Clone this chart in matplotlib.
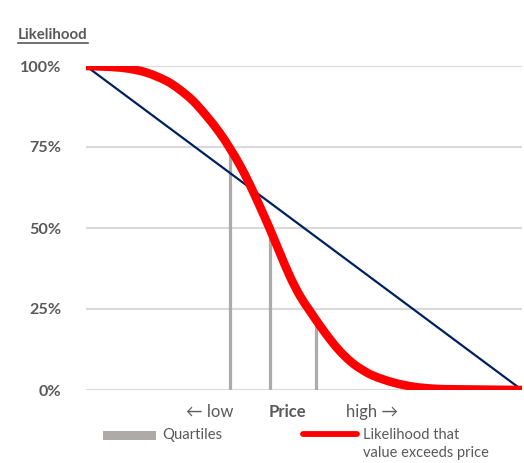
import matplotlib
matplotlib.use('Agg')
import matplotlib.pyplot as plt
from matplotlib.lines import Line2D
from matplotlib.patches import Rectangle, PathPatch
from matplotlib.path import Path

plt.rcParams['font.family'] = ['Lato', 'DejaVu Sans']

# price (0-100 across the axis) and likelihood (%)
price = [0, 4.6, 9.2, 13.8, 18.3, 21.4, 24.5, 27.5, 30.6, 33.0, 35.3, 37.6,
         39.9, 42.2, 44.5, 46.8, 49.1, 51.4, 53.7, 56.0, 58.3, 60.6, 62.8,
         65.9, 70.5, 75.1, 79.7, 85.0, 100]
likelihood = [100, 99.8, 99.3, 98.0, 95.5, 92.8, 89.3, 84.8, 79.5, 74.6, 69.4,
              63.3, 56.6, 49.6, 42.2, 35.0, 29.0, 24.3, 19.8, 15.6, 11.9, 8.9,
              6.7, 4.4, 2.3, 1.0, 0.4, 0.2, 0]

quartile_x = [33.0, 42.2, 52.8]
quartile_y = [75, 50, 22]

uniform_x = [0, 100]
uniform_y = [100, 0]

yticks = [0, 25, 50, 75, 100]
ylabels = ['0%', '25%', '50%', '75%', '100%']

grey_txt = '#595959'


def smooth_path(xs, ys):
    # excel style smoothed line: cubic bezier through every point
    pts = list(zip(xs, ys))
    n = len(pts)
    verts = [pts[0]]
    codes = [Path.MOVETO]
    for i in range(n - 1):
        p0 = pts[i - 1] if i > 0 else pts[i]
        p1 = pts[i]
        p2 = pts[i + 1]
        p3 = pts[i + 2] if i + 2 < n else pts[i + 1]
        c1 = (p1[0] + (p2[0] - p0[0]) / 6, p1[1] + (p2[1] - p0[1]) / 6)
        c2 = (p2[0] - (p3[0] - p1[0]) / 6, p2[1] - (p3[1] - p1[1]) / 6)
        verts += [c1, c2, p2]
        codes += [Path.CURVE4] * 3
    return Path(verts, codes)


fig = plt.figure(figsize=(5.24, 4.63), dpi=100)
ax = fig.add_axes([86 / 524, 1 - 390 / 463, 436 / 524, 324 / 463])

for y in yticks:
    ax.axhline(y, color='#D9D9D9', lw=1.5, zorder=0)

ax.vlines(quartile_x, 0, quartile_y, color='#AEAAAA', lw=2.3, zorder=2)
ax.plot(uniform_x, uniform_y, color='#002060', lw=1.6, zorder=3)
ax.add_patch(PathPatch(smooth_path(price, likelihood), facecolor='none',
                       edgecolor='#FF0000', lw=6.2, capstyle='butt',
                       joinstyle='round', zorder=4))

ax.set_xlim(0, 100)
ax.set_ylim(0, 100)
ax.set_yticks(yticks)
ax.set_yticklabels(ylabels, fontsize=11.6, fontweight='bold', color=grey_txt)
ax.tick_params(axis='y', length=0, pad=18)
ax.set_xticks([])
for s in ax.spines.values():
    s.set_visible(False)

# title with underline
t = fig.text(18 / 524, 1 - 35 / 463, 'Likelihood', fontsize=10.8, fontweight='bold',
             color=grey_txt, ha='left', va='center')
fig.canvas.draw()
bb = t.get_window_extent()
W, H = fig.bbox.width, fig.bbox.height
fig.add_artist(Line2D([bb.x0 / W, bb.x1 / W], [(bb.y0 - 1) / H] * 2,
                      color=grey_txt, lw=1.2))

# axis captions
ty = 1 - 412 / 463
fig.text(210 / 524, ty, '← low', fontsize=12, color=grey_txt, ha='center', va='center')
fig.text(287 / 524, ty, 'Price', fontsize=12, fontweight='bold', color=grey_txt,
         ha='center', va='center')
fig.text(372 / 524, ty, 'high →', fontsize=12, color=grey_txt, ha='center', va='center')

# legend
ly = 1 - 435 / 463
fig.add_artist(Rectangle((103 / 524, 1 - 440 / 463), 53 / 524, 9 / 463,
                         color='#AEAAAA', lw=0))
fig.text(162 / 524, ly, 'Quartiles', fontsize=10.7, color=grey_txt, ha='left', va='center')
fig.add_artist(Line2D([303 / 524, 357 / 524], [1 - 434 / 463] * 2, color='#FF0000',
                      lw=4.2, solid_capstyle='round'))
fig.text(363 / 524, ly, 'Likelihood that', fontsize=10.5, color=grey_txt,
         ha='left', va='center')
fig.text(363 / 524, 1 - 453 / 463, 'value exceeds price', fontsize=10.5, color=grey_txt,
         ha='left', va='center')

fig.savefig('out.png', dpi=100)
